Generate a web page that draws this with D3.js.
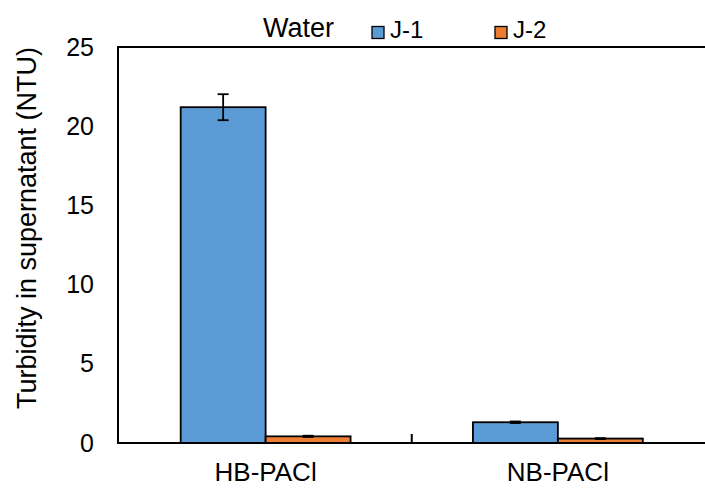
<!DOCTYPE html>
<html>
<head>
<meta charset="utf-8">
<script src="https://cdn.jsdelivr.net/npm/d3@7"></script>
<style>
  html, body { margin: 0; padding: 0; background: #fff; }
  svg { display: block; font-family: "Liberation Sans", Arial, sans-serif; }
</style>
</head>
<body>
<svg id="chart" width="705" height="488"></svg>
<script>
// Turbidity of supernatant for two coagulants and two waters
const categories = ["HB-PACl", "NB-PACl"];
const seriesNames = ["J-1", "J-2"];
const seriesColors = ["#5B9BD5", "#ED7D31"];
const valuesJ1 = [21.2, 1.31];
const valuesJ2 = [0.42, 0.28];
const errorsJ1 = [0.82, 0.05];
const errorsJ2 = [0.04, 0.03];
const yTicks = [0, 5, 10, 15, 20, 25];

const rows = categories.map((c, i) => ({
  category: c,
  bars: [
    { series: seriesNames[0], value: valuesJ1[i], err: errorsJ1[i], color: seriesColors[0] },
    { series: seriesNames[1], value: valuesJ2[i], err: errorsJ2[i], color: seriesColors[1] }
  ]
}));

const svg = d3.select("#chart");
const W = 705, H = 488;
const axisLeftX = 118;

const x0 = d3.scaleBand().domain(categories).range([119.5, 704]).padding(0);
const x1 = d3.scaleBand().domain(seriesNames).range([0, x0.bandwidth()])
  .paddingInner(0).paddingOuter(0.72);
const y = d3.scaleLinear().domain([0, 25]).range([443, 47]);

// bars
const groups = svg.append("g").selectAll("g").data(rows).join("g")
  .attr("transform", d => `translate(${x0(d.category)},0)`);

groups.selectAll("rect").data(d => d.bars).join("rect")
  .attr("x", d => x1(d.series))
  .attr("y", d => y(d.value))
  .attr("width", x1.bandwidth())
  .attr("height", d => y(0) - y(d.value))
  .attr("fill", d => d.color)
  .attr("stroke", "#000")
  .attr("stroke-width", 1.8);

// error bars
const eb = groups.selectAll("g.err").data(d => d.bars).join("g").attr("class", "err")
  .attr("stroke", "#000").attr("stroke-width", 1.8);
eb.append("line")
  .attr("x1", d => x1(d.series) + x1.bandwidth() / 2)
  .attr("x2", d => x1(d.series) + x1.bandwidth() / 2)
  .attr("y1", d => y(d.value + d.err))
  .attr("y2", d => y(d.value - d.err));
[1, -1].forEach(s => {
  eb.append("line")
    .attr("x1", d => x1(d.series) + x1.bandwidth() / 2 - 5.5)
    .attr("x2", d => x1(d.series) + x1.bandwidth() / 2 + 5.5)
    .attr("y1", d => y(d.value + s * d.err))
    .attr("y2", d => y(d.value + s * d.err));
});

// frame: left axis, top border
const frame = svg.append("g").attr("stroke", "#000").attr("stroke-width", 2);
frame.append("line").attr("x1", axisLeftX).attr("x2", axisLeftX)
  .attr("y1", y(25) - 1).attr("y2", y(0) + 1);
frame.append("line").attr("x1", axisLeftX - 1).attr("x2", W)
  .attr("y1", y(25)).attr("y2", y(25));

// y axis labels
const yAxis = d3.axisLeft(y).tickValues(yTicks).tickSize(0).tickPadding(24);
svg.append("g").attr("transform", `translate(${axisLeftX},0)`).call(yAxis)
  .call(g => g.select(".domain").remove())
  .call(g => g.selectAll("text").attr("font-size", 25)
    .attr("font-family", "'Liberation Sans', Arial, sans-serif").attr("fill", "#000"));

// x axis with inside ticks between categories
const xAxis = d3.axisBottom(x0).tickSize(0).tickPadding(19.5);
svg.append("g").attr("transform", `translate(0,${y(0)})`).call(xAxis)
  .call(g => g.select(".domain").attr("stroke-width", 2).attr("d", `M${axisLeftX - 1},0H${W}`))
  .call(g => g.selectAll("text").attr("font-size", 26)
    .attr("font-family", "'Liberation Sans', Arial, sans-serif").attr("fill", "#000"));
svg.append("g").selectAll("line").data(categories.slice(1)).join("line")
  .attr("x1", d => x0(d)).attr("x2", d => x0(d))
  .attr("y1", y(0)).attr("y2", y(0) - 9)
  .attr("stroke", "#000").attr("stroke-width", 2);

// y axis title
svg.append("text")
  .attr("transform", `translate(36,228) rotate(-90)`)
  .attr("text-anchor", "middle")
  .attr("font-size", 27)
  .text("Turbidity in supernatant (NTU)");

// legend
const legend = svg.append("g").attr("font-size", 24);
legend.append("text").attr("x", 263).attr("y", 37).attr("font-size", 27).text("Water");
const legendX = [372, 495];
seriesNames.forEach((s, i) => {
  legend.append("rect").attr("x", legendX[i]).attr("y", 26.5).attr("width", 12).attr("height", 12)
    .attr("fill", seriesColors[i]).attr("stroke", "#000").attr("stroke-width", 1.3);
  legend.append("text").attr("x", legendX[i] + 18).attr("y", 38).text(s);
});
</script>
</body>
</html>
